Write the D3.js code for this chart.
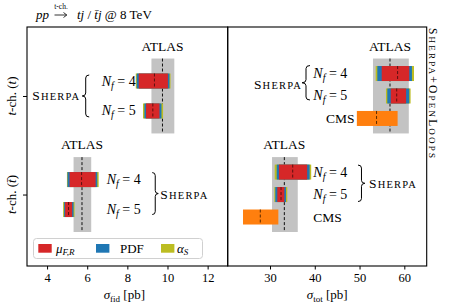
<!DOCTYPE html>
<html><head><meta charset="utf-8">
<script src="https://cdn.jsdelivr.net/npm/d3@7"></script>
<style>
body{margin:0;background:#fff;}
svg text{font-family:"Liberation Serif","Times New Roman",serif;fill:#000;}
</style></head>
<body><svg id="c" width="454" height="306"></svg>
<script>
// ---------- data ----------
const categories = ["t", "tbar"];          // y positions: t -> 1, tbar -> 0
const catValue = [1, 0];
const fidTicks = [4, 6, 8, 10, 12];
const totTicks = [30, 40, 50, 60];
const legendLabels = ["mu", "PDF", "alpha"];

// sigma_fid (left panel)
const fidAtlas   = [9.75, 5.74];
const fidAtlasLo = [9.20, 5.32];
const fidAtlasHi = [10.34, 6.20];
const fidNf4Center = [9.35, 5.72];
const fidNf4Scale  = [[8.57, 10.02], [5.12, 6.42]];
const fidNf4Pdf    = [[8.47, 10.10], [5.02, 6.50]];
const fidNf4As     = [[8.42, 10.15], [4.99, 6.57]];
const fidNf5Center = [9.27, 5.07];
const fidNf5Scale  = [[8.93, 9.60], [4.90, 5.25]];
const fidNf5Pdf    = [[8.85, 9.70], [4.85, 5.32]];
const fidNf5As     = [[8.78, 9.78], [4.80, 5.37]];

// sigma_tot (right panel)
const totAtlas   = [56.8, 33.2];
const totAtlasLo = [53.0, 30.45];
const totAtlasHi = [61.0, 36.2];
const totNf4Center = [58.5, 35.07];
const totNf4Scale  = [[54.95, 61.10], [32.00, 38.30]];
const totNf4Pdf    = [[53.97, 61.70], [31.50, 38.85]];
const totNf4As     = [[53.60, 62.16], [31.05, 39.20]];
const totNf5Center = [58.3, 32.46];
const totNf5Scale  = [[56.97, 60.40], [31.63, 33.20]];
const totNf5Pdf    = [[56.20, 61.10], [31.18, 33.57]];
const totNf5As     = [[55.90, 61.40], [30.96, 33.86]];
const totCms   = [53.8, 27.83];
const totCmsLo = [49.4, 23.97];
const totCmsHi = [58.5, 31.86];

// ---------- styles ----------
const C = {red:"#d62728", blue:"#1f77b4", olive:"#bcbd22", orange:"#ff7f0e", grey:"#c3c3c3"};

const svg = d3.select("#c");
const yTop = 27, yBot = 266;
const y = d3.scaleLinear().domain([-0.725, 1.7]).range([yBot, yTop]);
const xL = d3.scaleLinear().domain([3, 13]).range([27, 227.7]);
const xR = d3.scaleLinear().domain([20.55, 65]).range([227.7, 426.7]);

const barH = 15, bandHalf = 0.38;

function dashedV(g, x, y0, y1, color) {
  g.append("line").attr("x1", x).attr("x2", x).attr("y1", y0).attr("y2", y1)
    .attr("stroke", color || "#111").attr("stroke-width", 1).attr("stroke-dasharray", "3,2");
}
function theoryBar(g, x, yc, as, pdf, sc, center) {
  g.append("rect").attr("x", x(as[0])).attr("width", x(as[1]) - x(as[0]))
    .attr("y", yc - barH / 2).attr("height", barH).attr("fill", C.olive);
  g.append("rect").attr("x", x(pdf[0])).attr("width", x(pdf[1]) - x(pdf[0]))
    .attr("y", yc - barH / 2).attr("height", barH).attr("fill", C.blue);
  g.append("rect").attr("x", x(sc[0])).attr("width", x(sc[1]) - x(sc[0]))
    .attr("y", yc - barH / 2).attr("height", barH).attr("fill", C.red);
  dashedV(g, x(center), yc - barH / 2, yc + barH / 2, "#5a1010");
}
function atlasVal(isLeft, k, i) {
  if (k === 'lo') return isLeft ? fidAtlasLo[i] : totAtlasLo[i];
  if (k === 'hi') return isLeft ? fidAtlasHi[i] : totAtlasHi[i];
  return isLeft ? fidAtlas[i] : totAtlas[i];
}
function atlasBand(g, x, isLeft, i, c) {
  const y0 = y(c + bandHalf), y1 = y(c - bandHalf);
  const lo = atlasVal(isLeft, 'lo', i), hi = atlasVal(isLeft, 'hi', i), cv = atlasVal(isLeft, 'c', i);
  g.append("rect").attr("x", x(lo)).attr("width", x(hi) - x(lo))
    .attr("y", y0).attr("height", y1 - y0).attr("fill", C.grey);
  dashedV(g, x(cv), y0, y1, "#111");
  g.append("text").attr("x", x(cv)).attr("y", y0 - 8).attr("text-anchor", "middle")
    .attr("font-size", 13.5).text("ATLAS");
}
function brace(g, xTip, xEnd, y0, y1) {
  const xm = (xTip + xEnd) / 2, ym = (y0 + y1) / 2, r = 3;
  const p = `M${xEnd},${y0} Q${xm},${y0} ${xm},${y0 + r} L${xm},${ym - r} Q${xm},${ym} ${xTip},${ym} Q${xm},${ym} ${xm},${ym + r} L${xm},${y1 - r} Q${xm},${y1} ${xEnd},${y1}`;
  g.append("path").attr("d", p).attr("fill", "none").attr("stroke", "#000").attr("stroke-width", 1);
}
function nfLabel(g, x, yc, n, anchor) {
  const t = g.append("text").attr("x", x).attr("y", yc + 4.5).attr("font-size", 14)
    .attr("text-anchor", anchor);
  t.append("tspan").attr("font-style", "italic").text("N");
  t.append("tspan").attr("font-style", "italic").attr("font-size", 10).attr("dy", 3).text("f");
  t.append("tspan").attr("dy", -3).text(" = " + n);
}
function sherpa(g, x, yc, anchor) {
  const t = g.append("text").attr("x", x).attr("y", yc + 4.5).attr("font-size", 13.5)
    .attr("text-anchor", anchor).attr("textLength", 47).attr("lengthAdjust", "spacing");
  t.append("tspan").text("S");
  t.append("tspan").attr("font-size", 10.5).text("HERPA");
}

// ---------- left panel ----------
const gL = svg.append("g");
catValue.forEach((c, i) => atlasBand(gL, xL, true, i, c));
const offL = 0.152;
catValue.forEach((c, i) => {
  theoryBar(gL, xL, y(c + offL), fidNf4As[i], fidNf4Pdf[i], fidNf4Scale[i], fidNf4Center[i]);
  theoryBar(gL, xL, y(c - offL), fidNf5As[i], fidNf5Pdf[i], fidNf5Scale[i], fidNf5Center[i]);
});
nfLabel(gL, xL(8.42), y(1 + offL), 4, "end");
nfLabel(gL, xL(8.42), y(1 - offL), 5, "end");
brace(gL, xL(5.75), xL(6.1), y(1 + offL) - 6, y(1 - offL) + 6);
sherpa(gL, xL(5.6), y(1), "end");
nfLabel(gL, xL(6.97), y(0 + offL), 4, "start");
nfLabel(gL, xL(6.97), y(0 - offL), 5, "start");
brace(gL, xL(9.54), xL(9.24), y(0 + offL) - 7, y(0 - offL) + 5);
sherpa(gL, xL(9.64), y(0), "start");

gL.append("rect").attr("x", 27).attr("y", yTop).attr("width", 227.7 - 27).attr("height", yBot - yTop)
  .attr("fill", "none").attr("stroke", "#000").attr("stroke-width", 1.1);
const axL = d3.axisBottom(xL).tickValues(fidTicks).tickSize(3.5).tickPadding(4).tickFormat(d3.format("d"));
gL.append("g").attr("transform", `translate(0,${yBot})`).call(axL)
  .call(s => { s.select(".domain").remove(); s.selectAll("text").attr("font-size", 12.5).attr("font-family", "Liberation Serif"); });
const axY = d3.axisLeft(y).tickValues(catValue).tickSize(4).tickFormat("");
gL.append("g").attr("transform", `translate(27,0)`).call(axY).call(s => s.select(".domain").remove());
catValue.forEach((c, i) => {
  const t = svg.append("text").attr("transform", `translate(16,${y(c)}) rotate(-90)`)
    .attr("text-anchor", "middle").attr("font-size", 13);
  t.append("tspan").attr("font-style", "italic").text("t");
  t.append("tspan").text("-ch. (");
  t.append("tspan").attr("font-style", "italic").text(categories[i] === "t" ? "t" : "t\u0304");
  t.append("tspan").text(")");
});
{
  const t = svg.append("text").attr("x", (27 + 227.7) / 2 - 3).attr("y", 299).attr("text-anchor", "middle").attr("font-size", 13);
  t.append("tspan").attr("font-style", "italic").text("σ");
  t.append("tspan").attr("font-size", 9).attr("dy", 2.5).text("fid");
  t.append("tspan").attr("dy", -2.5).text(" [pb]");
}

// ---------- right panel ----------
const gR = svg.append("g");
catValue.forEach((c, i) => atlasBand(gR, xR, false, i, c));
const offR = 0.228;
catValue.forEach((c, i) => {
  theoryBar(gR, xR, y(c + offR), totNf4As[i], totNf4Pdf[i], totNf4Scale[i], totNf4Center[i]);
  theoryBar(gR, xR, y(c), totNf5As[i], totNf5Pdf[i], totNf5Scale[i], totNf5Center[i]);
  const yc = y(c - offR);
  gR.append("rect").attr("x", xR(totCmsLo[i])).attr("width", xR(totCmsHi[i]) - xR(totCmsLo[i]))
    .attr("y", yc - barH / 2).attr("height", barH).attr("fill", C.orange);
  dashedV(gR, xR(totCms[i]), yc - barH / 2, yc + barH / 2, "#5a2a00");
});
nfLabel(gR, xR(39.67), y(1 + offR), 4, "start");
nfLabel(gR, xR(39.67), y(1), 5, "start");
brace(gR, xR(37.15), xR(38.93), y(1 + offR) - 8, y(1) + 4);
sherpa(gR, xR(36.9), (y(1 + offR) + y(1)) / 2, "end");
svg.append("text").attr("x", xR(48.9)).attr("y", y(1 - offR) + 4.5).attr("text-anchor", "end").attr("font-size", 13.5).text("CMS");
nfLabel(gR, xR(39.67), y(0 + offR), 4, "start");
nfLabel(gR, xR(39.67), y(0), 5, "start");
brace(gR, xR(51.2), xR(49.66), y(0 + offR) - 7, y(0) + 7);
sherpa(gR, xR(52.1), (y(0 + offR) + y(0)) / 2, "start");
svg.append("text").attr("x", xR(39.67)).attr("y", y(0 - offR) + 4.5).attr("text-anchor", "start").attr("font-size", 13.5).text("CMS");

gR.append("rect").attr("x", 227.7).attr("y", yTop).attr("width", 426.7 - 227.7).attr("height", yBot - yTop)
  .attr("fill", "none").attr("stroke", "#000").attr("stroke-width", 1.1);
const axR = d3.axisBottom(xR).tickValues(totTicks).tickSize(3.5).tickPadding(4).tickFormat(d3.format("d"));
gR.append("g").attr("transform", `translate(0,${yBot})`).call(axR)
  .call(s => { s.select(".domain").remove(); s.selectAll("text").attr("font-size", 12.5).attr("font-family", "Liberation Serif"); });
{
  const t = svg.append("text").attr("x", (227.7 + 426.7) / 2).attr("y", 299).attr("text-anchor", "middle").attr("font-size", 13);
  t.append("tspan").attr("font-style", "italic").text("σ");
  t.append("tspan").attr("font-size", 9).attr("dy", 2.5).text("tot");
  t.append("tspan").attr("dy", -2.5).text(" [pb]");
}

// ---------- legend ----------
{
  const g = svg.append("g");
  g.append("rect").attr("x", 33.5).attr("y", 238.5).attr("width", 169).attr("height", 20).attr("rx", 3)
    .attr("fill", "#fff").attr("fill-opacity", 0.8).attr("stroke", "#d0d0d0").attr("stroke-width", 1);
  const items = [
    {px: 38.3, c: C.red, tx: 56},
    {px: 96, c: C.blue, tx: 120},
    {px: 161, c: C.olive, tx: 177}
  ];
  items.forEach((it, i) => {
    g.append("rect").attr("x", it.px).attr("y", 244).attr("width", 13.4).attr("height", 8.7).attr("fill", it.c);
    const t = g.append("text").attr("x", it.tx).attr("y", 252.5).attr("font-size", 13);
    if (legendLabels[i] === "mu") {
      t.append("tspan").attr("font-style", "italic").text("μ");
      t.append("tspan").attr("font-style", "italic").attr("font-size", 9).attr("dy", 2.5).text("F,R");
    } else if (legendLabels[i] === "alpha") {
      t.append("tspan").attr("font-style", "italic").text("α");
      t.append("tspan").attr("font-style", "italic").attr("font-size", 9).attr("dy", 2.5).text("S");
    } else {
      t.text("PDF");
    }
  });
}

// ---------- title ----------
{
  const fs = 13;
  svg.append("text").attr("x", 36).attr("y", 19).attr("font-size", fs).attr("font-style", "italic").text("pp");
  // arrow drawn as a path, with the "t-ch." label above it
  svg.append("path").attr("d", "M54.5,15 L66.5,15 M63.5,12.5 L66.8,15 L63.5,17.5")
    .attr("fill", "none").attr("stroke", "#000").attr("stroke-width", 0.8);
  svg.append("text").attr("x", 61).attr("y", 8.5).attr("font-size", 7.5).attr("text-anchor", "middle").text("t-ch.");
  const t = svg.append("text").attr("x", 77).attr("y", 19).attr("font-size", fs);
  t.append("tspan").attr("font-style", "italic").text("tj");
  t.append("tspan").text(" / ");
  t.append("tspan").attr("font-style", "italic").text("t\u0304j");
  t.append("tspan").text(" @ 8 TeV");
}

// ---------- right vertical label ----------
{
  const t = svg.append("text").attr("transform", "translate(429,28) rotate(90)").attr("font-size", 11.5)
    .attr("textLength", 130).attr("lengthAdjust", "spacing");
  t.append("tspan").text("S");
  t.append("tspan").attr("font-size", 9).text("HERPA");
  t.append("tspan").text("+O");
  t.append("tspan").attr("font-size", 9).text("PEN");
  t.append("tspan").text("L");
  t.append("tspan").attr("font-size", 9).text("OOPS");
}
</script></body></html>
